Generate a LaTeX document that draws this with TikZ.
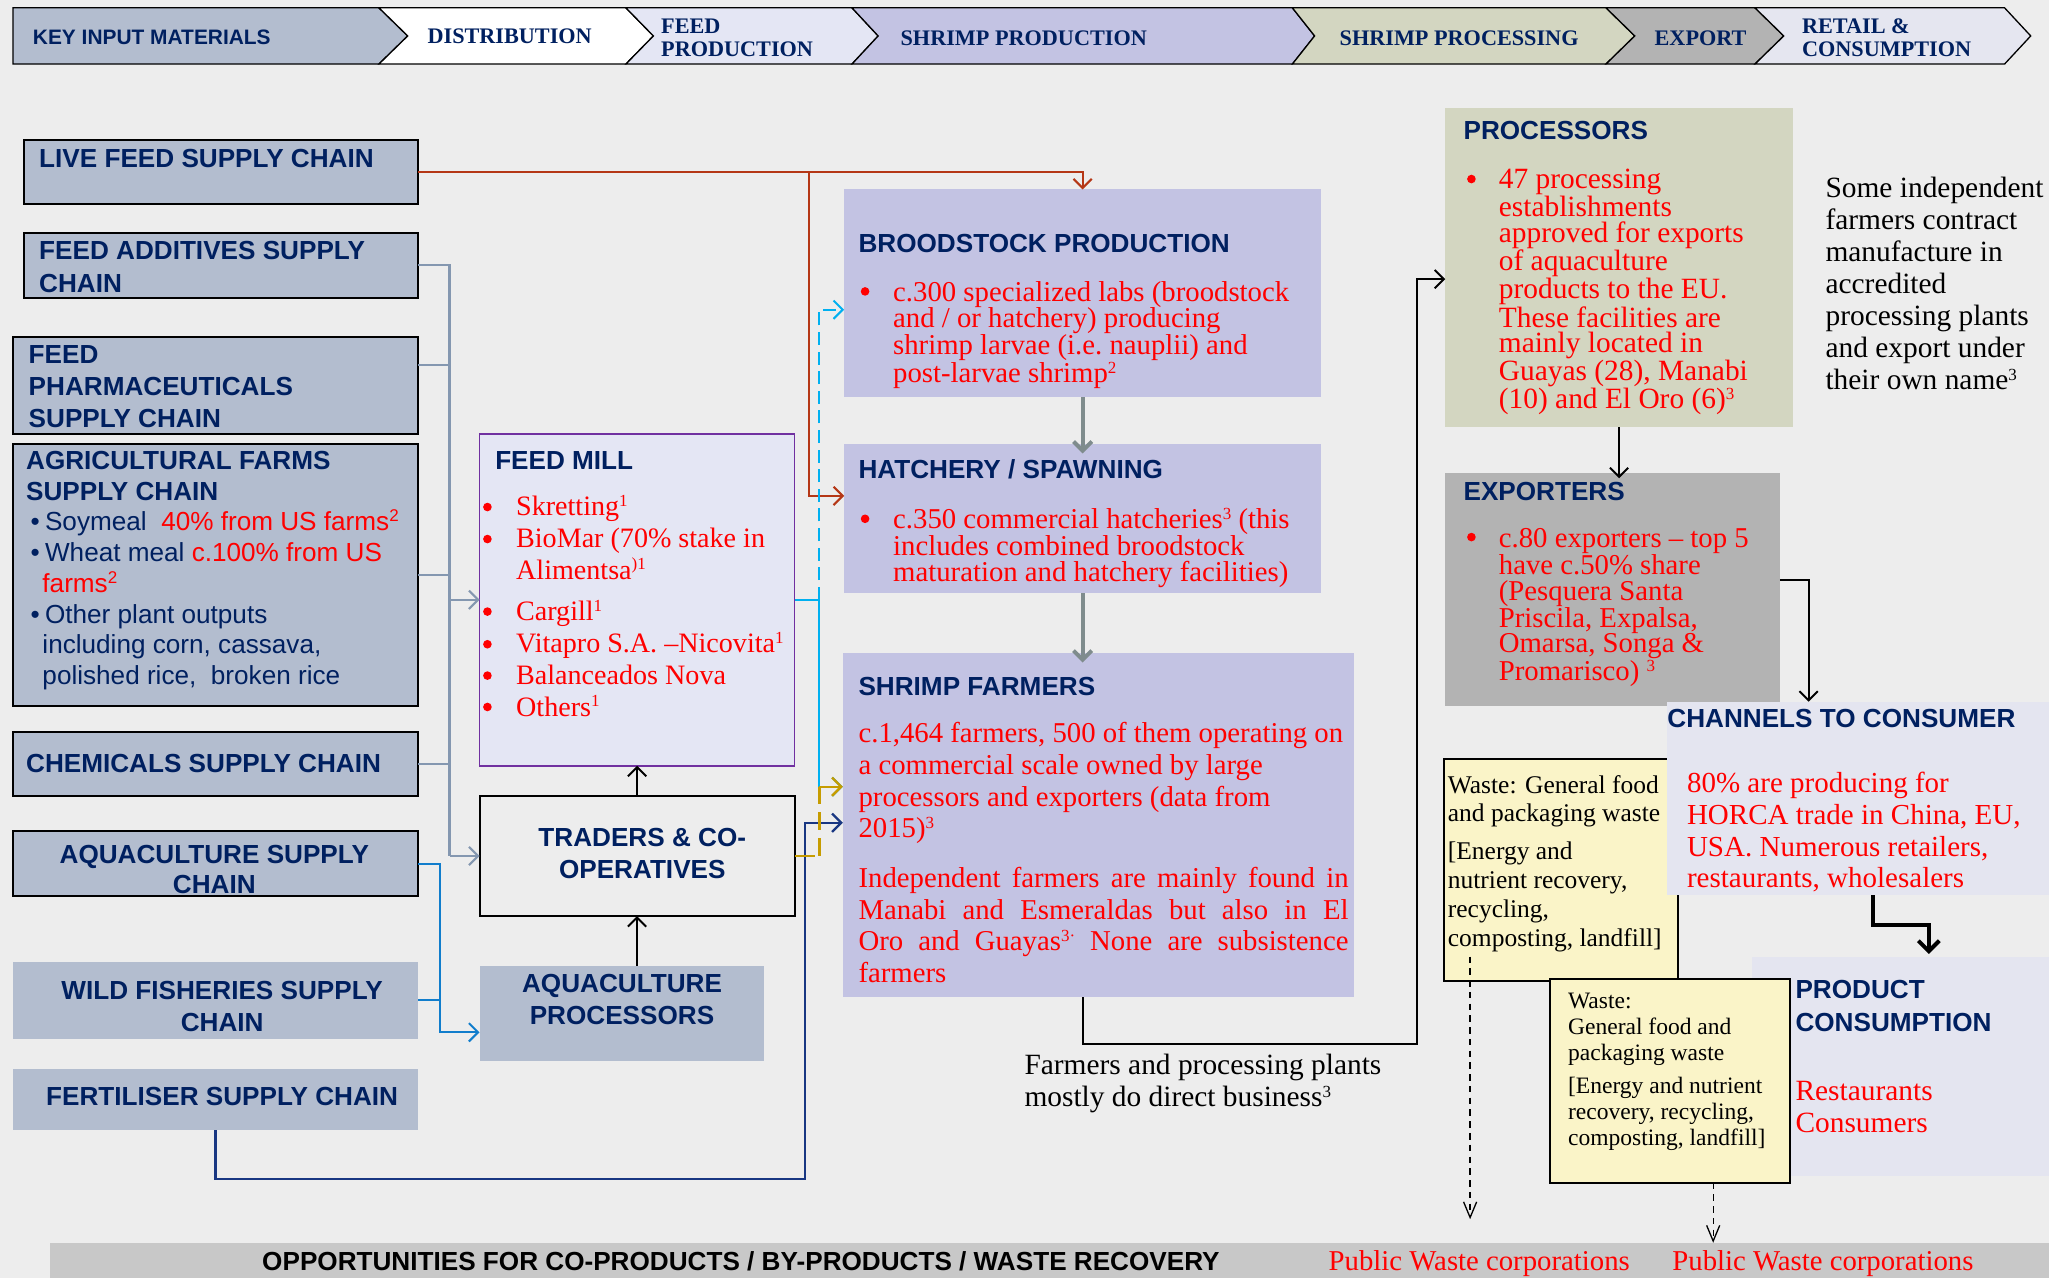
\documentclass[tikz,border=0pt]{standalone}
\usepackage{fontspec}
\setmainfont{Liberation Serif}
\setsansfont{Liberation Sans}
\usetikzlibrary{arrows.meta}
\definecolor{bgc}{RGB}{237,237,237}
\definecolor{navy}{RGB}{0,32,96}
\definecolor{supc}{RGB}{179,189,207}
\definecolor{millc}{RGB}{228,230,244}
\definecolor{millb}{RGB}{112,48,160}
\definecolor{shrc}{RGB}{195,195,227}
\definecolor{procc}{RGB}{211,214,193}
\definecolor{expc}{RGB}{179,179,179}
\definecolor{chanc}{RGB}{228,229,240}
\definecolor{retc}{RGB}{229,230,240}
\definecolor{wastec}{RGB}{250,244,200}
\definecolor{bandc}{RGB}{200,200,200}
\definecolor{rust}{RGB}{181,55,22}
\definecolor{slate}{RGB}{132,151,176}
\definecolor{cyanc}{RGB}{0,176,240}
\definecolor{goldc}{RGB}{198,156,0}
\definecolor{navl}{RGB}{25,55,130}
\definecolor{bluel}{RGB}{17,125,204}
\definecolor{grayar}{RGB}{127,140,141}
\definecolor{redt}{RGB}{255,0,0}
\newcommand\supr[1]{\raisebox{7pt}{\fontsize{13}{13}\selectfont #1}}
\newcommand\stS{\rule{0pt}{15pt}}
\newcommand\stR{\rule{0pt}{17pt}}
\tikzset{
 box/.style={rectangle, inner sep=0pt, outer sep=0pt, anchor=north west},
 tx/.style={anchor=north west, inner sep=0pt, outer sep=0pt, align=left},
 txc/.style={anchor=north, inner sep=0pt, outer sep=0pt, align=center},
 ttl/.style={font=\sffamily\bfseries\fontsize{20}{24.4}\selectfont, text=navy},
 hdr/.style={font=\bfseries\fontsize{17}{18}\selectfont, text=navy},
 hseg/.style={draw=black, line width=1pt, line join=miter},
 barb/.style={-{Straight Barb[length=7pt,width=14pt]}},
 rustl/.style={draw=rust, line width=1.6pt},
 slatel/.style={draw=slate, line width=1.6pt},
 blu/.style={draw=bluel, line width=1.6pt},
 nvl/.style={draw=navl, line width=1.8pt},
 cyl/.style={draw=cyanc, line width=1.6pt},
 gdl/.style={draw=goldc, line width=1.8pt},
 blk/.style={draw=black, line width=1.5pt},
 gthick/.style={draw=grayar, line width=3pt},
 dsh/.style={draw=black, line width=1pt, dash pattern=on 5pt off 4pt},
}
\begin{document}
\begin{tikzpicture}[x=1pt,y=-1pt]
\useasboundingbox (0,0) rectangle (1568,978);
\fill[bgc] (0,0) rectangle (1568,978);

% ---------- header chevrons ----------
\filldraw[hseg, fill=supc] (10,6) -- (290,6) -- (312,27.5) -- (290,49) -- (10,49) -- cycle;
\filldraw[hseg, fill=white] (290,6) -- (479,6) -- (500,27.5) -- (479,49) -- (290,49) -- (312,27.5) -- cycle;
\filldraw[hseg, fill=millc] (479,6) -- (652,6) -- (672,27.5) -- (652,49) -- (479,49) -- (500,27.5) -- cycle;
\filldraw[hseg, fill=shrc] (652,6) -- (989,6) -- (1006,27.5) -- (989,49) -- (652,49) -- (672,27.5) -- cycle;
\filldraw[hseg, fill=procc] (989,6) -- (1229,6) -- (1251,27.5) -- (1229,49) -- (989,49) -- (1006,27.5) -- cycle;
\filldraw[hseg, fill=expc] (1229,6) -- (1343,6) -- (1365,27.5) -- (1343,49) -- (1229,49) -- (1251,27.5) -- cycle;
\filldraw[hseg, fill=retc] (1343,6) -- (1534,6) -- (1554,27.5) -- (1534,49) -- (1343,49) -- (1365,27.5) -- cycle;
\node[anchor=base west, inner sep=0pt, font=\sffamily\bfseries\fontsize{16}{18}\selectfont, text=navy] (h1) at (25,33.7) {KEY INPUT MATERIALS};
\node[anchor=base west, inner sep=0pt, hdr] (h2) at (327,33.6) {DISTRIBUTION};
\node[tx, hdr] (h3) at (506,12.6) {\rule{0pt}{13pt}FEED\\PRODUCTION};
\node[anchor=base west, inner sep=0pt, hdr] (h4) at (689,35) {SHRIMP PRODUCTION};
\node[anchor=base west, inner sep=0pt, hdr] (h5) at (1025,35) {SHRIMP PROCESSING};
\node[anchor=base west, inner sep=0pt, hdr] (h6) at (1266,35) {EXPORT};
\node[tx, hdr] (h7) at (1379,12.6) {\rule{0pt}{13pt}RETAIL \&\\CONSUMPTION};

% ---------- left column boxes ----------
\tikzset{supbox/.style={box, fill=supc}, supboxb/.style={box, fill=supc, draw=black, line width=1.5pt}}
\node[supboxb, minimum width=302pt, minimum height=49pt] (livefeed) at (18,107) {};
\node[supboxb, minimum width=302pt, minimum height=50pt] (feedadd) at (18,178) {};
\node[supboxb, minimum width=310pt, minimum height=74pt] (pharma) at (10,258) {};
\node[supboxb, minimum width=310pt, minimum height=200pt] (agri) at (10,340) {};
\node[supboxb, minimum width=310pt, minimum height=49pt] (chem) at (10,560) {};
\node[supboxb, minimum width=310pt, minimum height=50pt] (aquasup) at (10,636) {};
\node[supbox, minimum width=310pt, minimum height=59pt] (wild) at (10,736) {};
\node[supbox, minimum width=310pt, minimum height=47pt] (fert) at (10,818) {};

\node[tx, ttl] (livefeedT) at (30,113) {\stS LIVE FEED SUPPLY CHAIN};
\node[tx, ttl, font=\sffamily\bfseries\fontsize{20}{25}\selectfont] (feedaddT) at (30,183.5) {\stS FEED ADDITIVES SUPPLY\\CHAIN};
\node[tx, ttl, font=\sffamily\bfseries\fontsize{20}{24.5}\selectfont] (pharmaT) at (22,263) {\stS FEED\\PHARMACEUTICALS\\SUPPLY CHAIN};
\node[tx, ttl, font=\sffamily\bfseries\fontsize{20}{24}\selectfont] (agriT) at (20,344) {\stS AGRICULTURAL FARMS\\SUPPLY CHAIN};
\node[tx, font=\sffamily\fontsize{20}{23.6}\selectfont, text=navy] (agriL) at (23.5,389) {%
\stR\makebox[11pt][l]{\textbullet}Soymeal\ \ \textcolor{redt}{40\% from US farms\supr{2}}\\
\makebox[11pt][l]{\textbullet}Wheat meal \textcolor{redt}{c.100\% from US}\\
\hspace*{9pt}\textcolor{redt}{farms\supr{2}}\\
\makebox[11pt][l]{\textbullet}Other plant outputs\\
\hspace*{9pt}including corn, cassava,\\
\hspace*{9pt}polished rice,\ \ broken rice};
\node[tx, ttl] (chemT) at (20,576) {\stS CHEMICALS SUPPLY CHAIN};
\node[txc, ttl, font=\sffamily\bfseries\fontsize{20}{23.5}\selectfont] (aquasupT) at (164,645.5) {\stS AQUACULTURE SUPPLY\\CHAIN};
\node[txc, ttl] (wildT) at (170,749.6) {\stS WILD FISHERIES SUPPLY\\CHAIN};
\node[txc, ttl] (fertT) at (170,830.7) {\stS FERTILISER SUPPLY CHAIN};

% ---------- feed mill / traders / aquaculture processors ----------
\node[box, fill=millc, draw=millb, line width=1.2pt, minimum width=241pt, minimum height=254pt] (feedmill) at (367,332) {};
\node[box, fill=bgc, draw=black, line width=1.5pt, minimum width=241pt, minimum height=92pt] (traders) at (367,609) {};
\node[box, fill=supc, minimum width=218pt, minimum height=73pt] (aquaproc) at (367,739) {};

\node[tx, ttl] (feedmillT) at (379,344) {\stS FEED MILL};
\node[tx, font=\fontsize{21.5}{24.3}\selectfont, text=redt] (feedmillL) at (395,377.5) {%
\stR Skretting\supr{1}\\
BioMar (70\% stake in\\
Alimentsa\supr{)1}\\[7.7pt]
Cargill\supr{1}\\
Vitapro S.A. –Nicovita\supr{1}\\
Balanceados Nova\\
Others\supr{1}};
\foreach \yy in {388,412.5,468,493,517,541} \fill[redt] (373,\yy) circle (3.3);
\node[txc, ttl, font=\sffamily\bfseries\fontsize{20}{24}\selectfont] (tradersT) at (491.5,633) {\stS TRADERS \& CO-\\OPERATIVES};
\node[txc, ttl, font=\sffamily\bfseries\fontsize{20}{24.3}\selectfont] (aquaprocT) at (476,744.5) {\stS AQUACULTURE\\PROCESSORS};

% ---------- shrimp production ----------
\node[box, fill=shrc, minimum width=365pt, minimum height=159pt] (brood) at (646,145) {};
\node[box, fill=shrc, minimum width=365pt, minimum height=114pt] (hatch) at (646,340) {};
\node[box, fill=shrc, minimum width=391pt, minimum height=263pt] (farmers) at (645,500) {};

\node[tx, ttl] (broodT) at (657,178) {\stS BROODSTOCK PRODUCTION};
\node[tx, font=\fontsize{22}{20}\selectfont, text=redt] (broodL) at (683.5,213.5) {%
\stR c.300 specialized labs (broodstock\\
and / or hatchery) producing\\
shrimp larvae (i.e.\ nauplii) and\\
post-larvae shrimp\supr{2}};
\fill[redt] (662,223) circle (3.3);
\node[tx, ttl] (hatchT) at (657,351) {\stS HATCHERY / SPAWNING};
\node[tx, font=\fontsize{22}{20.3}\selectfont, text=redt] (hatchL) at (683.5,387.5) {%
\stR c.350 commercial hatcheries\supr{3} (this\\
includes combined broodstock\\
maturation and hatchery facilities)};
\fill[redt] (662,397) circle (3.3);
\node[tx, ttl] (farmersT) at (657,517.5) {\stS SHRIMP FARMERS};
\node[tx, font=\fontsize{22}{24.2}\selectfont, text=redt] (farmersA) at (657,551.5) {%
\stR c.1,464 farmers, 500 of them operating on\\
a commercial scale owned by large\\
processors and exporters (data from\\
2015)\supr{3}};
\node[tx, font=\fontsize{22}{24}\selectfont, text=redt] (farmersB) at (657,662.5) {%
\stR\makebox[375pt][s]{Independent farmers are mainly found in}\\
\makebox[375pt][s]{Manabi and Esmeraldas but also in El}\\
\makebox[375pt][s]{Oro and Guayas\supr{3·} None are subsistence}\\
farmers};
\node[tx, font=\fontsize{22.5}{24}\selectfont, text=black] (directT) at (784,805.5) {%
\stR Farmers and processing plants\\
mostly do direct business\supr{3}};

% ---------- processing / export ----------
\node[box, fill=procc, minimum width=266pt, minimum height=244pt] (proc) at (1106,83) {};
\node[box, fill=expc, minimum width=256pt, minimum height=178pt] (exp) at (1106,362) {};
\node[tx, ttl] (procT) at (1120,91.5) {\stS PROCESSORS};
\node[tx, font=\fontsize{22.5}{19.6}\selectfont, text=redt] (procL) at (1147,127.5) {%
\stR 47 processing\\
establishments\\
approved for exports\\
of aquaculture\\
products to the EU.\\
These facilities are\\
mainly located in\\
Guayas (28), Manabi\\
(10) and El Oro (6)\supr{3}};
\fill[redt] (1126,137) circle (3.3);
\node[tx, font=\fontsize{22.5}{24.5}\selectfont, text=black] (indepT) at (1397,134) {%
\stR Some independent\\
farmers contract\\
manufacture in\\
accredited\\
processing plants\\
and export under\\
their own name\supr{3}};
\node[tx, ttl] (expT) at (1120,368) {\stS EXPORTERS};
\node[tx, font=\fontsize{22}{19.4}\selectfont, text=redt] (expL) at (1147,402) {%
\stR c.80 exporters – top 5\\
have c.50\% share\\
(Pesquera Santa\\
Priscila, Expalsa,\\
Omarsa, Songa \&\\
Promarisco) \supr{3}};
\fill[redt] (1126,411) circle (3.3);

% ---------- retail / waste ----------
\node[box, fill=wastec, draw=black, line width=1.5pt, minimum width=179pt, minimum height=170pt] (waste1) at (1105,581) {};
\node[tx, font=\fontsize{19.5}{22}\selectfont, text=black] (waste1T) at (1108,592) {%
\rule{0pt}{15pt}Waste: General food\\
and packaging waste\\[7pt]
[Energy and\\
nutrient recovery,\\
recycling,\\
composting, landfill]};
\node[box, fill=chanc, minimum width=292pt, minimum height=148pt] (channels) at (1276,537) {};
\node[tx, ttl] (channelsT) at (1276,542) {\stS CHANNELS TO CONSUMER};
\node[tx, font=\fontsize{22.2}{24.3}\selectfont, text=redt] (channelsL) at (1291,589.5) {%
\stR 80\% are producing for\\
HORCA trade in China, EU,\\
USA. Numerous retailers,\\
restaurants, wholesalers};
\node[box, fill=chanc, minimum width=227pt, minimum height=168pt] (product) at (1341,732) {};
\node[tx, ttl, font=\sffamily\bfseries\fontsize{20}{25}\selectfont] (productT) at (1374,749) {\stS PRODUCT\\CONSUMPTION};
\node[tx, font=\fontsize{22.5}{24}\selectfont, text=redt] (productL) at (1374,825.5) {%
\stR Restaurants\\
Consumers};
\node[box, fill=wastec, draw=black, line width=1.5pt, minimum width=184pt, minimum height=156pt] (waste2) at (1186,749) {};
\node[tx, font=\fontsize{18}{20}\selectfont, text=black] (waste2T) at (1200,757.5) {%
\rule{0pt}{14pt}Waste:\\
General food and\\
packaging waste\\[5pt]
[Energy and nutrient\\
recovery, recycling,\\
composting, landfill]};

% ---------- bottom band ----------
\node[box, fill=bandc, minimum width=1530pt, minimum height=27pt] (band) at (38,951) {};
\node[anchor=base, inner sep=0pt, font=\sffamily\bfseries\fontsize{20}{22}\selectfont, text=black] (bandT) at (567,972) {OPPORTUNITIES FOR CO-PRODUCTS / BY-PRODUCTS / WASTE RECOVERY};
\node[anchor=base, inner sep=0pt, font=\fontsize{22}{24}\selectfont, text=redt] (pub1) at (1132,972) {Public Waste corporations};
\node[anchor=base, inner sep=0pt, font=\fontsize{22}{24}\selectfont, text=redt] (pub2) at (1395,972) {Public Waste corporations};

% ---------- coordinates ----------
\coordinate (rbr) at (619,131.5);
\coordinate (hatchin) at (646,379.5);
\coordinate (busT) at (344,203);
\coordinate (busM) at (344,459);
\coordinate (busB) at (344,655);
\coordinate (phout) at (320,279);
\coordinate (agout) at (320,440);
\coordinate (blB) at (337,790);
\coordinate (apin) at (367,790);
\coordinate (cyT) at (627,237);
\coordinate (brin) at (646,237);
\coordinate (cyx) at (627,459);
\coordinate (frin1) at (645,602);
\coordinate (gdx) at (624,655);
\coordinate (gdv) at (627,655);
\coordinate (nvB) at (616,902);
\coordinate (nvT) at (616,629.6);
\coordinate (frin2) at (645,629.6);
\coordinate (fbot) at (828.5,763);
\coordinate (fl) at (1084,799);
\coordinate (procin) at (1106,213.6);
\coordinate (expout) at (1362,444);
\coordinate (chin) at (1384,537);
\coordinate (chout) at (1433,685);
\coordinate (chm) at (1476,708);
\coordinate (pdin) at (1476,730);
\coordinate (w1s) at (1125,732);
\coordinate (w1e) at (1125,933);
\coordinate (w2e) at (1311,951);

% ---------- connectors ----------
\draw[rustl, barb] (livefeed.east) -| (brood.north);
\draw[rustl, barb] (rbr) |- (hatchin);
\draw[slatel] (feedadd.east) -- (busT) -- (busB);
\draw[slatel] (phout) -- (phout -| busT);
\draw[slatel] (agout) -- (agout -| busT);
\draw[slatel] (chem.east) -- (chem.east -| busT);
\draw[slatel, barb] (busM) -- (feedmill.west);
\draw[slatel, barb] (busB) -- (traders.west);
\draw[blu, barb] (aquasup.east) -| (blB) -- (apin);
\draw[blu] (wild.east) -- (wild.east -| blB);
\draw[nvl, barb] (fert.south) |- (nvB) -- (nvT) -- (frin2);
\draw[cyl, barb] (feedmill.east) -- (cyx) -- (cyx |- frin1) -- (frin1);
\draw[cyl, barb, dash pattern=on 10pt off 5pt] (cyx) -- (cyT) -- (brin);
\draw[gdl] (traders.east) -- (gdx);
\draw[gdl, dash pattern=on 14pt off 6pt] (gdv) -- (gdv |- frin1);
\draw[gdl, barb] (gdv |- frin1) -- (frin1);
\draw[blk, barb] (traders.north) -- (feedmill.south);
\draw[blk, barb] (traders.south |- aquaproc.north) -- (traders.south);
\draw[gthick, barb, shorten >=-7pt] (brood.south) -- (hatch.north);
\draw[gthick, barb, shorten >=-7pt] (hatch.south) -- (hatch.south |- farmers.north);
\draw[blk, barb] (fbot) |- (fl) -- (fl |- procin) -- (procin);
\draw[blk, barb, shorten >=-4pt] (proc.south) -- (proc.south |- exp.north);
\draw[blk, barb] (expout) -| (chin);
\draw[draw=black, line width=3pt, -{Straight Barb[length=8pt,width=16pt]}] (chout) |- (chm) -- (pdin);
\draw[dsh, -{Straight Barb[length=12pt,width=10pt]}] (w1s) -- (w1e);
\draw[dsh, -{Straight Barb[length=12pt,width=10pt]}] (w2e |- waste2.south) -- (w2e);
\end{tikzpicture}
\end{document}
